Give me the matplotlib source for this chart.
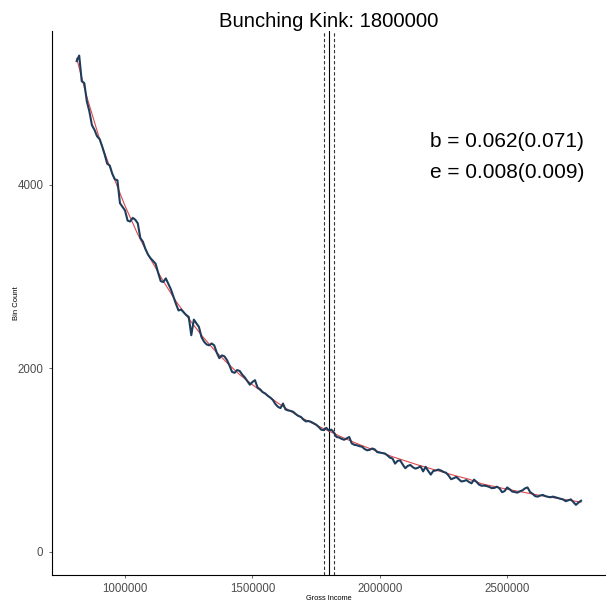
import numpy as np
import matplotlib
matplotlib.use("Agg")
import matplotlib.pyplot as plt

plt.rcParams['font.family'] = ['Liberation Sans', 'DejaVu Sans']

# bin midpoints of gross income, 10000 wide
bins = np.arange(810000, 2790001, 10000)

# observed bin counts
counts = [
    5350, 5410, 5130, 5110, 4910, 4800, 4650, 4600, 4530, 4500,
    4420, 4330, 4230, 4210, 4120, 4060, 4050, 3800, 3760, 3720,
    3610, 3600, 3640, 3620, 3580, 3420, 3380, 3300, 3240, 3200,
    3170, 3140, 3040, 2950, 2940, 2980, 2920, 2860, 2780, 2700,
    2630, 2640, 2610, 2580, 2560, 2360, 2530, 2490, 2450, 2340,
    2290, 2260, 2250, 2270, 2250, 2170, 2110, 2140, 2130, 2090,
    2030, 1960, 1950, 1980, 1970, 1930, 1900, 1860, 1820, 1850,
    1870, 1790, 1770, 1740, 1725, 1700, 1680, 1655, 1610, 1580,
    1565, 1615, 1550, 1540, 1535, 1525, 1500, 1480, 1470, 1440,
    1420, 1425, 1415, 1400, 1385, 1360, 1330, 1325, 1350, 1320,
    1330, 1300, 1250, 1245, 1230, 1220, 1235, 1250, 1180, 1165,
    1160, 1150, 1145, 1120, 1105, 1110, 1125, 1115, 1085, 1080,
    1075, 1070, 1050, 1025, 1015, 960, 990, 995, 950, 910,
    935, 945, 920, 905, 915, 930, 875, 925, 880, 840,
    880, 885, 895, 885, 870, 860, 830, 790, 800, 815,
    790, 765, 770, 780, 760, 745, 785, 760, 730, 718,
    720, 715, 705, 692, 695, 708, 690, 648, 660, 700,
    680, 655, 650, 643, 658, 668, 690, 700, 650, 630,
    605, 600, 612, 618, 605, 598, 593, 600, 592, 585,
    575, 568, 550, 560, 570, 540, 510, 535, 555,
]

# counterfactual fit
fit_x = [810000, 850000, 900000, 950000, 1000000, 1050000, 1100000, 1150000,
         1200000, 1250000, 1300000, 1350000, 1400000, 1450000, 1500000,
         1550000, 1600000, 1650000, 1700000, 1750000, 1800000, 1850000,
         1900000, 1950000, 2000000, 2050000, 2100000, 2150000, 2200000,
         2250000, 2300000, 2350000, 2400000, 2450000, 2500000, 2550000,
         2600000, 2650000, 2700000, 2750000, 2790000]
fit_y = [5380, 4960, 4500, 4120, 3770, 3460, 3190, 2950, 2730, 2540, 2360,
         2200, 2060, 1930, 1820, 1720, 1620, 1530, 1450, 1380, 1315, 1250,
         1190, 1135, 1085, 1035, 990, 945, 905, 865, 825, 790, 740, 710,
         680, 655, 628, 603, 580, 557, 540]

kink = 1800000
window = [1780000, 1820000]

fig = plt.figure(figsize=(6.06, 6.04), dpi=100)
ax = fig.add_axes([0.0853, 0.048, 0.9147, 0.9007])

ax.axvline(kink, color='black', lw=0.8, zorder=1)
for w in window:
    ax.axvline(w, color='#333333', lw=0.8, linestyle=(0, (3, 2)), zorder=1)

ax.plot(fit_x, fit_y, color='#e0474c', lw=0.8, zorder=2)
ax.plot(bins, counts, color='#1e3d5c', lw=1.5, zorder=3)

ax.text(2500000, 4470, 'b = 0.062(0.071)', ha='center', va='center', fontsize=15)
ax.text(2500000, 4140, 'e = 0.008(0.009)', ha='center', va='center', fontsize=15)

ax.set_xlim(712000, 2888000)
ax.set_ylim(-255, 5678)
ax.set_xticks([1000000, 1500000, 2000000, 2500000])
ax.set_yticks([0, 2000, 4000])
ax.ticklabel_format(style='plain')
ax.tick_params(colors='#4d4d4d', labelcolor='#4d4d4d', labelsize=8.3, length=2.5, width=0.6)

for s in ['top', 'right']:
    ax.spines[s].set_visible(False)
for s in ['left', 'bottom']:
    ax.spines[s].set_linewidth(0.8)
    ax.spines[s].set_color('black')

ax.set_xlabel('Gross Income', fontsize=5.3, va='center')
ax.xaxis.set_label_coords(0.5, -0.044)
ax.set_ylabel('Bin Count', fontsize=5.5, va='center')
ax.yaxis.set_label_coords(-0.064, 0.5)
fig.text(0.0853 + 0.9147 / 2, 1 - 27 / 604, 'Bunching Kink: 1800000', ha='center',
         va='baseline', fontsize=14.6)

fig.savefig('out.png', dpi=100)
